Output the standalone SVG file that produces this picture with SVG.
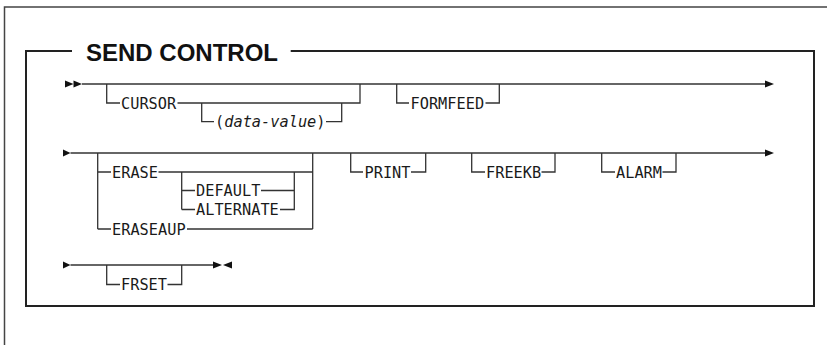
<svg xmlns="http://www.w3.org/2000/svg" width="827" height="345" viewBox="0 0 827 345">
<style>
.frame{fill:none;stroke:#222;stroke-width:2}
.outer{fill:none;stroke:#444;stroke-width:1.5}
.ln{fill:none;stroke:#333;stroke-width:1.3}
.ah{fill:#111}
.t{font-family:"DejaVu Sans Mono",monospace;font-size:16.5px;fill:#1a1a1a}
.dv{font-family:"DejaVu Sans Mono",monospace;font-size:15.3px;fill:#1a1a1a}
.it{font-style:italic}
.title{font-family:"Liberation Sans",Arial,sans-serif;font-weight:bold;font-size:24px;fill:#111}
</style>
<rect width="827" height="345" fill="#fff"/>
<rect class="outer" x="4.5" y="7" width="900" height="400"/>
<g id="frame">
<path class="frame" d="M72 51 H26 V306 H814 V51 H290.7"/>
<text class="title" x="86" y="60.5">SEND CONTROL</text>
</g>
<g id="connectors">
<path class="ln" d="M82 84 H765"/>
<path class="ln" d="M106.7 84 V103 H120 M177.5 103 H360 V84"/>
<path class="ln" d="M201.7 103 V121.7 H214 M326 121.7 H341.7 V103"/>
<path class="ln" d="M396.7 84 V103 H409 M485.5 103 H499.3 V84"/>
<path class="ln" d="M70.5 153 H765"/>
<path class="ln" d="M97.7 153 V229 M97.7 172 H111 M158.5 172 H312.7 M312.7 153 V229 M97.7 229 H111 M187 229 H312.7"/>
<path class="ln" d="M181.7 172 V209.5 M181.7 190.5 H195 M181.7 209.5 H195 M261 190.5 H294.3 M280 209.5 H294.3 V172"/>
<path class="ln" d="M350.7 153 V172 H363 M411 172 H425.7 V153"/>
<path class="ln" d="M471.7 153 V172 H485 M541.5 172 H555 V153"/>
<path class="ln" d="M601.7 153 V172 H615 M662.5 172 H676 V153"/>
<path class="ln" d="M70.5 265 H213"/>
<path class="ln" d="M106.7 265 V284.5 H120 M167.5 284.5 H181.7 V265"/>
<polygon class="ah" points="65,80.5 73.5,84 65,87.5"/>
<polygon class="ah" points="73.5,80.5 82,84 73.5,87.5"/>
<polygon class="ah" points="765,80.5 774,84 765,87.5"/>
<polygon class="ah" points="63,149.5 70.5,153 63,156.5"/>
<polygon class="ah" points="765,149.5 774,153 765,156.5"/>
<polygon class="ah" points="63,261.5 70.5,265 63,268.5"/>
<polygon class="ah" points="213,261.5 222,265 213,268.5"/>
<polygon class="ah" points="232,261.5 223,265 232,268.5"/>
</g>
<g id="cursor"><text class="t" x="121" y="108.8" textLength="55.2" lengthAdjust="spacingAndGlyphs">CURSOR</text></g>
<g id="data-value"><text class="dv" x="215" y="127.3">(<tspan class="it">data-value</tspan>)</text></g>
<g id="formfeed"><text class="t" x="410.5" y="108.8" textLength="73.6" lengthAdjust="spacingAndGlyphs">FORMFEED</text></g>
<g id="erase"><text class="t" x="112" y="177.8" textLength="46" lengthAdjust="spacingAndGlyphs">ERASE</text></g>
<g id="default"><text class="t" x="196" y="196.3" textLength="64.4" lengthAdjust="spacingAndGlyphs">DEFAULT</text></g>
<g id="alternate"><text class="t" x="196" y="215.3" textLength="82.8" lengthAdjust="spacingAndGlyphs">ALTERNATE</text></g>
<g id="eraseaup"><text class="t" x="112" y="234.8" textLength="73.6" lengthAdjust="spacingAndGlyphs">ERASEAUP</text></g>
<g id="print"><text class="t" x="364.5" y="177.8" textLength="46" lengthAdjust="spacingAndGlyphs">PRINT</text></g>
<g id="freekb"><text class="t" x="486" y="177.8" textLength="55.2" lengthAdjust="spacingAndGlyphs">FREEKB</text></g>
<g id="alarm"><text class="t" x="616" y="177.8" textLength="46" lengthAdjust="spacingAndGlyphs">ALARM</text></g>
<g id="frset"><text class="t" x="121" y="290.3" textLength="46" lengthAdjust="spacingAndGlyphs">FRSET</text></g>
</svg>
